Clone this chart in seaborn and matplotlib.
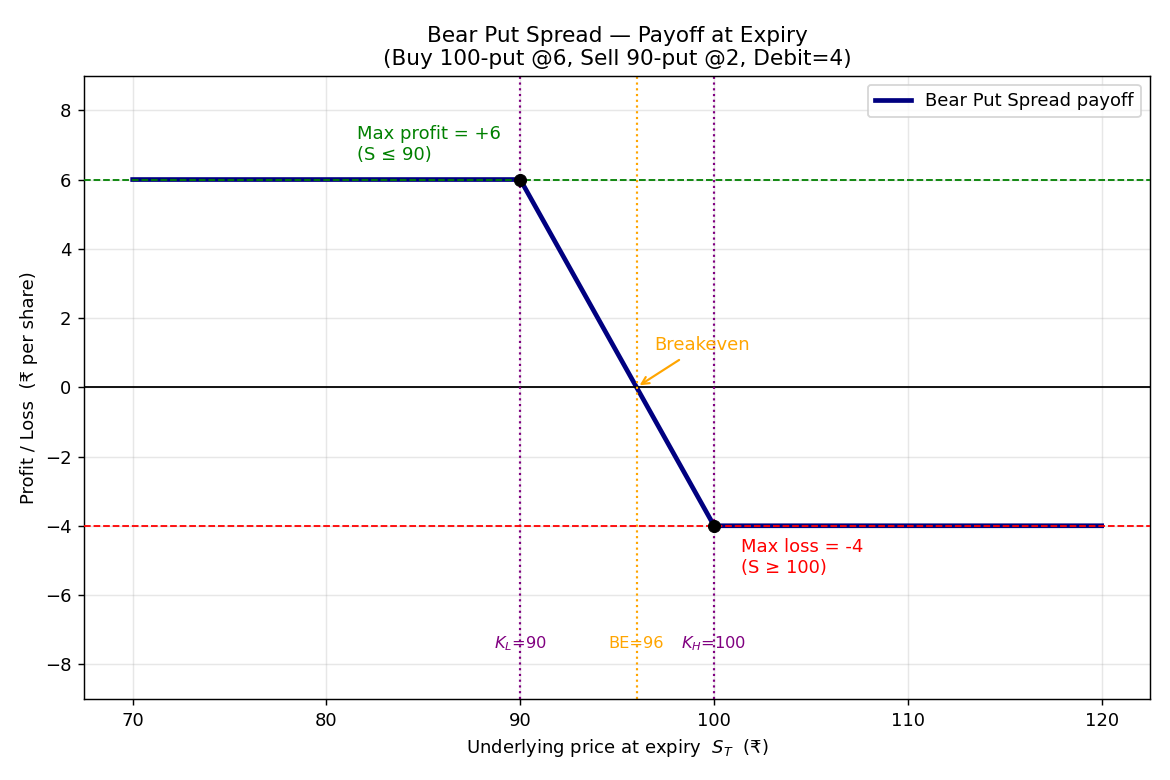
import matplotlib

matplotlib.use("Agg")

import matplotlib.pyplot as plt
import pandas as pd
import seaborn as sns

# strikes / premiums
K_LOW = 90
K_HIGH = 100
BREAKEVEN = 96
MAX_PROFIT = 6
MAX_LOSS = -4

# payoff kink points
spot_prices = [70, 90, 100, 120]
payoff_values = [6, 6, -4, -4]
kink_prices = [90, 100]
kink_values = [6, -4]

payoff_df = pd.DataFrame({"S": spot_prices, "payoff": payoff_values})

fig, ax = plt.subplots(figsize=(9, 6), dpi=130)

sns.lineplot(data=payoff_df, x="S", y="payoff", color="navy", linewidth=2.6,
             label="Bear Put Spread payoff", ax=ax, zorder=2)
sns.scatterplot(x=kink_prices, y=kink_values, color="black", s=45, zorder=5,
                edgecolor="black", ax=ax, legend=False)

ax.axhline(0, color="black", linewidth=1)
ax.axhline(MAX_PROFIT, color="green", linestyle="--", linewidth=1, zorder=3)
ax.axhline(MAX_LOSS, color="red", linestyle="--", linewidth=1, zorder=3)
ax.axvline(K_LOW, color="purple", linestyle=":", linewidth=1.2)
ax.axvline(K_HIGH, color="purple", linestyle=":", linewidth=1.2)
ax.axvline(BREAKEVEN, color="orange", linestyle=":", linewidth=1.2)

ax.text(81.6, 6.45, "Max profit = +6\n(S ≤ 90)", color="green", fontsize=10,
        ha="left", va="bottom")
ax.text(101.4, -4.35, "Max loss = -4\n(S ≥ 100)", color="red", fontsize=10,
        ha="left", va="top")
ax.annotate("Breakeven", xy=(BREAKEVEN, 0), xytext=(96.9, 0.95), color="orange",
            fontsize=10, ha="left", va="bottom",
            arrowprops=dict(arrowstyle="->", color="orange", lw=1.2))

ax.text(K_LOW, -7.4, r"$K_L$=90", color="purple", fontsize=9, ha="center", va="center")
ax.text(BREAKEVEN, -7.4, "BE=96", color="orange", fontsize=9, ha="center", va="center")
ax.text(K_HIGH, -7.4, r"$K_H$=100", color="purple", fontsize=9, ha="center", va="center")

ax.set_ylim(-9, 9)
ax.set_yticks(range(-8, 9, 2))
ax.set_xticks(range(70, 121, 10))
ax.set_title("Bear Put Spread — Payoff at Expiry\n(Buy 100-put @6, Sell 90-put @2, Debit=4)",
             fontsize=12)
ax.set_xlabel(r"Underlying price at expiry  $S_T$  (₹)")
ax.set_ylabel("Profit / Loss  (₹ per share)")
ax.grid(alpha=0.3)
ax.legend(loc="upper right")

fig.subplots_adjust(left=0.072, right=0.983, top=0.903, bottom=0.104)
fig.savefig("out.png", dpi=130)
